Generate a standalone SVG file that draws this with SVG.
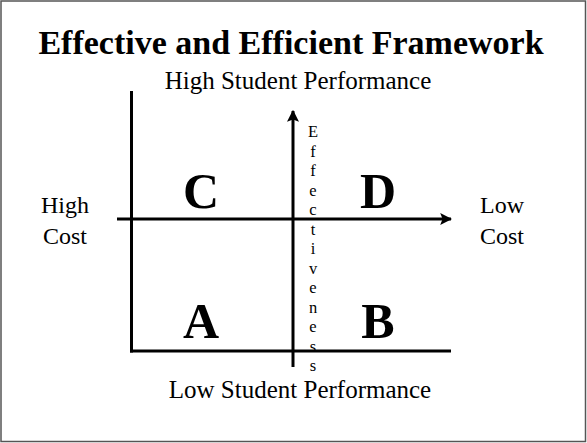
<svg xmlns="http://www.w3.org/2000/svg" width="587" height="443" viewBox="0 0 587 443">
<style>
  .serif { font-family: "Liberation Serif", "Times New Roman", serif; fill: #000; }
  .title { font-size: 34px; font-weight: bold; }
  .axis { font-size: 25px; }
  .side { font-size: 24px; }
  .quad { font-size: 50px; font-weight: bold; }
  .vert { font-size: 16.5px; }
  .line { stroke: #000; stroke-width: 3; fill: none; }
</style>
<defs>
  <marker id="arrow" viewBox="0 0 10 10" refX="9" refY="5" markerWidth="4" markerHeight="4" orient="auto" markerUnits="strokeWidth">
    <path d="M0,0 L10,5 L0,10 L2,5 Z" fill="#000"/>
  </marker>
</defs>
<rect x="1" y="1" width="584.5" height="440.5" fill="#fff" stroke="#555" stroke-width="1.5"/>
<text id="title" class="serif title" x="291" y="54" text-anchor="middle">Effective and Efficient Framework</text>
<g id="connectors">
  <line class="line" x1="131.5" y1="91" x2="131.5" y2="352.5"/>
  <line class="line" x1="130" y1="351" x2="451" y2="351"/>
  <line class="line" x1="117" y1="219" x2="451" y2="219" marker-end="url(#arrow)"/>
  <line class="line" x1="293" y1="367" x2="293" y2="111" marker-end="url(#arrow)"/>
</g>
<g id="label-high-perf"><text class="serif axis" x="298" y="89" text-anchor="middle">High Student Performance</text></g>
<g id="label-low-perf"><text class="serif axis" x="300" y="398" text-anchor="middle">Low Student Performance</text></g>
<g id="label-high-cost">
  <text class="serif side" x="65" y="213" text-anchor="middle">High</text>
  <text class="serif side" x="65" y="244" text-anchor="middle">Cost</text>
</g>
<g id="label-low-cost">
  <text class="serif side" x="502" y="213" text-anchor="middle">Low</text>
  <text class="serif side" x="502" y="244" text-anchor="middle">Cost</text>
</g>
<g id="quad-C"><text class="serif quad" x="201" y="208" text-anchor="middle">C</text></g>
<g id="quad-D"><text class="serif quad" x="378" y="208" text-anchor="middle">D</text></g>
<g id="quad-A"><text class="serif quad" x="201" y="338" text-anchor="middle">A</text></g>
<g id="quad-B"><text class="serif quad" x="378" y="338" text-anchor="middle">B</text></g>
<g id="label-effectiveness" class="serif vert" text-anchor="middle">
  <text x="313" y="137">E</text>
  <text x="313" y="156.5">f</text>
  <text x="313" y="176">f</text>
  <text x="313" y="195.5">e</text>
  <text x="313" y="215">c</text>
  <text x="313" y="234.5">t</text>
  <text x="313" y="254">i</text>
  <text x="313" y="273.5">v</text>
  <text x="313" y="293">e</text>
  <text x="313" y="312.5">n</text>
  <text x="313" y="332">e</text>
  <text x="313" y="351.5">s</text>
  <text x="313" y="371">s</text>
</g>
</svg>
